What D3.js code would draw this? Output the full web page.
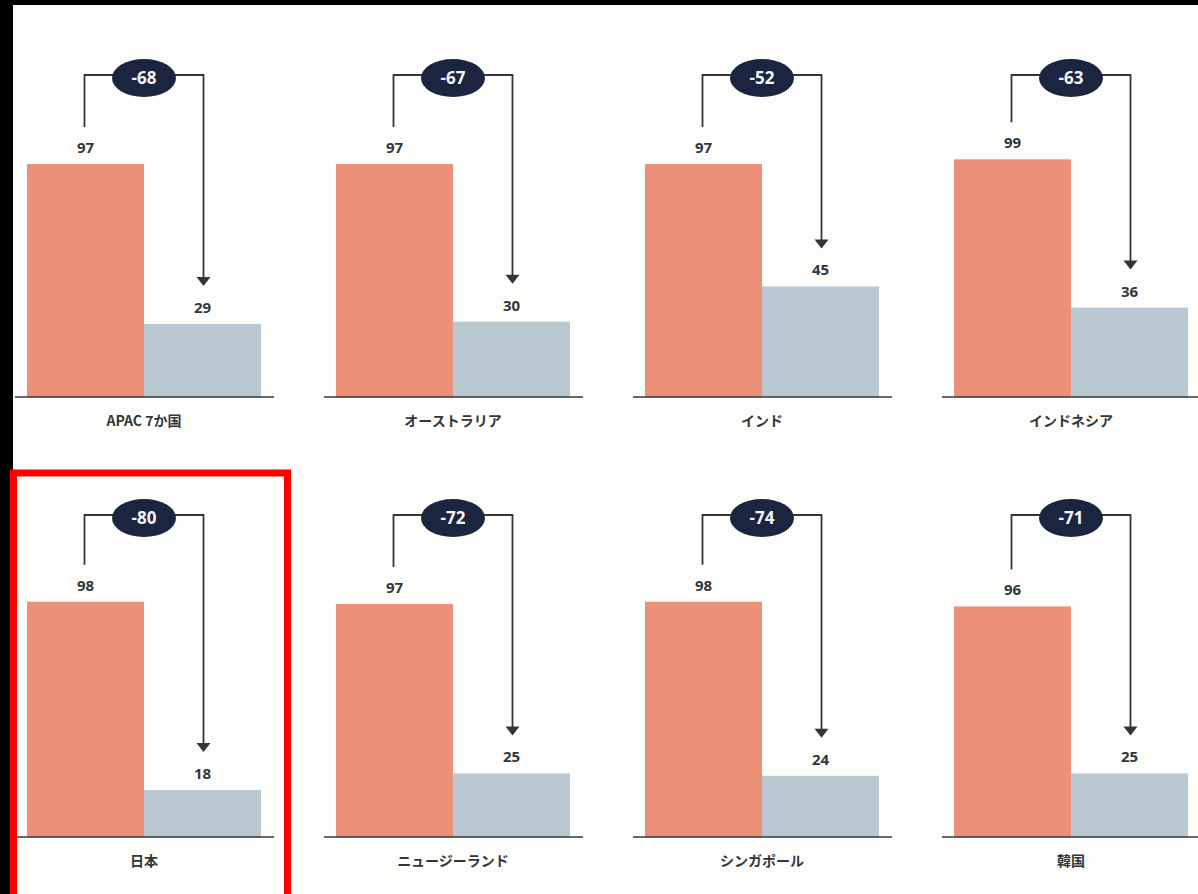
<!DOCTYPE html>
<html>
<head>
<meta charset="utf-8">
<script src="https://cdn.jsdelivr.net/npm/d3@7"></script>
<style>
  html, body { margin: 0; padding: 0; background: #000; }
  svg { display: block; }
</style>
</head>
<body>
<svg id="chart" width="1198" height="894"></svg>
<script>
// Per-market values: before and after, with the change shown in each bubble
const categories = ["APAC 7か国", "オーストラリア", "インド", "インドネシア",
                    "日本", "ニュージーランド", "シンガポール", "韓国"];
const beforeValues = [97, 97, 97, 99, 98, 97, 98, 96];
const afterValues  = [29, 30, 45, 36, 18, 25, 24, 25];
const changeValues = [-68, -67, -52, -63, -80, -72, -74, -71];
const highlighted = "日本";

const W = 1198, H = 894;
const svg = d3.select("#chart");

// white page inset in a black frame
svg.append("rect").attr("x", 0).attr("y", 0).attr("width", W).attr("height", H).attr("fill", "#000");
svg.append("rect").attr("x", 13).attr("y", 5).attr("width", W - 13).attr("height", H - 5).attr("fill", "#fdfdfc");

const cols = 4;
const panelStepX = 309, panelStepY = 440;
const firstX = 27, firstBaseline = 397;
const barsWidth = 234, plotHeight = 240;

const x = d3.scaleBand().domain(["before", "after"]).range([0, barsWidth]).padding(0);
const y = d3.scaleLinear().domain([-2, 100]).range([plotHeight, 0]);

const ORANGE = "#ea9177", GREY = "#bac8d2", INK = "#333638", NAVY = "#1c2540";
const bracketY = 75 - firstBaseline + plotHeight; // bracket line height within a panel

const panels = svg.selectAll("g.panel")
  .data(categories.map((c, i) => ({ c, i, before: beforeValues[i], after: afterValues[i], change: changeValues[i] })))
  .join("g")
  .attr("class", "panel")
  .attr("transform", d => {
    const col = d.i % cols, row = Math.floor(d.i / cols);
    return `translate(${firstX + col * panelStepX},${firstBaseline + row * panelStepY - plotHeight})`;
  });

// bars
panels.append("rect")
  .attr("x", x("before")).attr("width", x.bandwidth())
  .attr("y", d => y(d.before)).attr("height", d => plotHeight - y(d.before))
  .attr("fill", ORANGE);
panels.append("rect")
  .attr("x", x("after")).attr("width", x.bandwidth())
  .attr("y", d => y(d.after)).attr("height", d => plotHeight - y(d.after))
  .attr("fill", GREY);

// baseline
panels.append("line")
  .attr("x1", -12).attr("x2", barsWidth + 13)
  .attr("y1", plotHeight).attr("y2", plotHeight)
  .attr("stroke", INK).attr("stroke-width", 1.6);

// value labels
const numFont = "'Open Sans', 'Noto Sans', sans-serif";
panels.append("text")
  .attr("x", x("before") + x.bandwidth() / 2).attr("y", d => y(d.before) - 11)
  .attr("text-anchor", "middle").attr("font-family", numFont)
  .attr("font-weight", 700).attr("font-size", 15).attr("fill", INK)
  .text(d => d.before);
panels.append("text")
  .attr("x", x("after") + x.bandwidth() / 2).attr("y", d => y(d.after) - 11)
  .attr("text-anchor", "middle").attr("font-family", numFont)
  .attr("font-weight", 700).attr("font-size", 15).attr("fill", INK)
  .text(d => d.after);

// category labels
panels.append("text")
  .attr("x", barsWidth / 2).attr("y", plotHeight + 29)
  .attr("text-anchor", "middle")
  .attr("font-family", "'Noto Sans CJK JP', 'Noto Sans', sans-serif")
  .attr("font-weight", 700).attr("font-size", 14).attr("fill", INK)
  .text(d => d.c);

// bracket from the first bar down to the second, with arrowhead
const cB = x("before") + x.bandwidth() / 2 - 1;
const cA = x("after") + x.bandwidth() / 2 + 1;
panels.append("path")
  .attr("d", d => {
    const yL = y(d.before) - 37, yTip = y(d.after) - 38;
    return `M${cB},${yL} V${bracketY} H${cA} V${yTip - 8}`;
  })
  .attr("fill", "none").attr("stroke", INK).attr("stroke-width", 1.8);
panels.append("path")
  .attr("d", d => {
    const yTip = y(d.after) - 38;
    return `M${cA - 7},${yTip - 9} L${cA + 7},${yTip - 9} L${cA},${yTip} Z`;
  })
  .attr("fill", INK);

// change bubble
panels.append("ellipse")
  .attr("cx", barsWidth / 2).attr("cy", bracketY + 3)
  .attr("rx", 32).attr("ry", 19)
  .attr("fill", NAVY);
panels.append("text")
  .attr("x", barsWidth / 2).attr("y", bracketY + 9)
  .attr("text-anchor", "middle").attr("font-family", numFont)
  .attr("font-weight", 700).attr("font-size", 17).attr("fill", "#f2f4f8")
  .text(d => d.change);

// highlight frame around one market
const hiIndex = categories.indexOf(highlighted);
const hiCol = hiIndex % cols, hiRow = Math.floor(hiIndex / cols);
svg.append("rect")
  .attr("x", 13.5 + hiCol * panelStepX)
  .attr("y", 473 + (hiRow - 1) * panelStepY)
  .attr("width", 274).attr("height", 460)
  .attr("fill", "none").attr("stroke", "#ff0000").attr("stroke-width", 7);
</script>
</body>
</html>
